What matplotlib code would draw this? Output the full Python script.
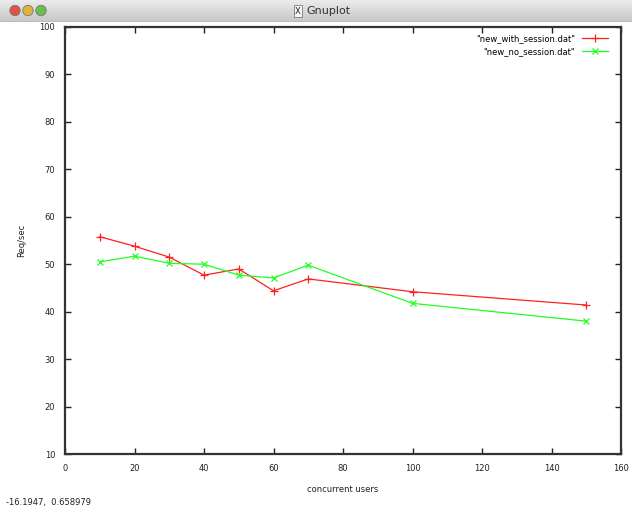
import numpy as np
import matplotlib
matplotlib.use('Agg')
import matplotlib.pyplot as plt
from matplotlib.patches import Circle

# data
users = [10, 20, 30, 40, 50, 60, 70, 100, 150]
with_session = [55.8, 53.8, 51.5, 47.7, 49.0, 44.4, 46.9, 44.2, 41.4]
no_session = [50.5, 51.7, 50.2, 50.0, 47.7, 47.1, 49.8, 41.75, 38.0]
xticks = [0, 20, 40, 60, 80, 100, 120, 140, 160]
yticks = [10, 20, 30, 40, 50, 60, 70, 80, 90, 100]

W, H = 632, 513
fig = plt.figure(figsize=(W / 100, H / 100), dpi=100)
fig.patch.set_facecolor('white')
fs = 6

# window title bar
bar = fig.add_axes([0, 1 - 22 / H, 1, 22 / H])
grad = np.linspace(0.92, 0.78, 50).reshape(-1, 1)
bar.imshow(grad, cmap='gray', vmin=0, vmax=1, aspect='auto', extent=[0, W, 22, 0])
bar.set_xlim(0, W)
bar.set_ylim(22, 0)
bar.axis('off')
bar.axhline(21.5, color='#8a8a8a', lw=1)
for cx, col in [(15, '#e0504a'), (28, '#e3b23c'), (41, '#6cbf4a')]:
    bar.add_patch(Circle((cx, 10.5), 5.2, facecolor=col, edgecolor='#777777', lw=0.6))
bar.text(328, 11, 'Gnuplot', ha='center', va='center', fontsize=8, color='#333333')
bar.text(298, 11, 'X', ha='center', va='center', fontsize=6, color='#222222',
         bbox=dict(boxstyle='square,pad=0.15', fc='#f4f4f4', ec='#666666', lw=0.5))

# plot area
ax = fig.add_axes([65 / W, 1 - 454 / H, (621 - 65) / W, (454 - 27) / H])
ax.plot(users, with_session, color='#ff2020', lw=0.9, marker='+', ms=5.5, mew=0.9,
        label='"new_with_session.dat"')
ax.plot(users, no_session, color='#20ff20', lw=0.9, marker='x', ms=4, mew=0.9,
        label='"new_no_session.dat"')
ax.set_xlim(0, 160)
ax.set_ylim(10, 100)
ax.set_xticks(xticks)
ax.set_yticks(yticks)
ax.tick_params(direction='in', length=4, width=1, top=True, right=True,
               labelsize=fs, pad=7, colors='#222222')
for s in ax.spines.values():
    s.set_linewidth(1.6)
    s.set_color('#333333')
ax.set_xlabel('concurrent users', fontsize=fs, labelpad=9, color='#222222')
ax.set_ylabel('Req/sec', fontsize=fs, labelpad=10, color='#222222')

leg = ax.legend(loc='upper right', bbox_to_anchor=(0.98, 0.988), frameon=False,
                fontsize=fs, markerfirst=False, handlelength=3.2, borderaxespad=0,
                labelspacing=0.55, handletextpad=0.8, borderpad=0.2)

fig.text(6 / W, 1 - 503 / H, '-16.1947,  0.658979', fontsize=fs, va='center', color='#222222')

fig.savefig('out.png', dpi=100)
